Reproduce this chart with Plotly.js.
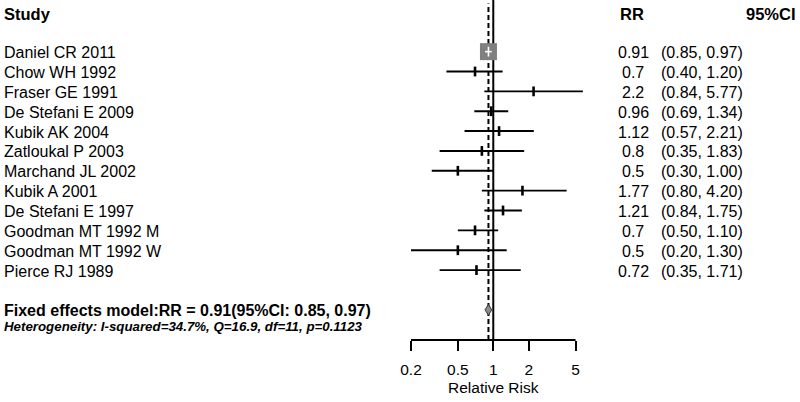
<!DOCTYPE html>
<html>
<head>
<meta charset="utf-8">
<script src="https://cdn.plot.ly/plotly-3.0.1.min.js"></script>
<style>html,body{margin:0;padding:0;background:#fff;}#chart{width:800px;height:402px;}</style>
</head>
<body>
<div id="chart"></div>
<script>
// ---- data ----
const studies = ["Daniel CR 2011","Chow WH 1992","Fraser GE 1991","De Stefani E 2009","Kubik AK 2004","Zatloukal P 2003","Marchand JL 2002","Kubik A 2001","De Stefani E 1997","Goodman MT 1992 M","Goodman MT 1992 W","Pierce RJ 1989"];
const rr    = [0.91, 0.7, 2.2, 0.96, 1.12, 0.8, 0.5, 1.77, 1.21, 0.7, 0.5, 0.72];
const lower = [0.85, 0.40, 0.84, 0.69, 0.57, 0.35, 0.30, 0.80, 0.84, 0.50, 0.20, 0.35];
const upper = [0.97, 1.20, 5.77, 1.34, 2.21, 1.83, 1.00, 4.20, 1.75, 1.10, 1.30, 1.71];
const pooledRR = 0.91, pooledLo = 0.85, pooledHi = 0.97;
const tickVals = [0.2, 0.5, 1, 2, 5];
const tickText = ["0.2", "0.5", "1", "2", "5"];
const heterogeneity = "Heterogeneity: I-squared=34.7%, Q=16.9, df=11, p=0.1123";

// ---- build ----
const FONT = "Arial, 'Liberation Sans', sans-serif";
const pooledRow = studies.length + 1;

// inverse-variance weights: biggest study drawn as a box
const w = lower.map((l, i) => { const se = (Math.log(upper[i]) - Math.log(l)) / 3.92; return 1 / (se * se); });
const big = w.indexOf(Math.max(...w));

const lx = [], ly = [];
const tx = [], ty = [];
studies.forEach((s, i) => {
  if (i === big) return;
  lx.push(lower[i], upper[i], null); ly.push(i, i, null);
  tx.push(rr[i]); ty.push(i);
});

const traces = [
  {type: "scatter", mode: "lines", x: lx, y: ly, line: {color: "#000", width: 1.9}, hoverinfo: "skip"},
  {type: "scatter", mode: "markers", x: tx, y: ty, marker: {symbol: "line-ns", size: 7, line: {color: "#000", width: 2.6}}, hoverinfo: "skip"},
  {type: "scatter", mode: "markers", x: [rr[big]], y: [big], marker: {symbol: "square", size: 17, color: "#808080", line: {width: 0}}, hoverinfo: "skip"},
  {type: "scatter", mode: "lines", x: [lower[big], upper[big]], y: [big, big], line: {color: "#fff", width: 1.6}, hoverinfo: "skip"},
  {type: "scatter", mode: "markers", x: [rr[big]], y: [big], marker: {symbol: "line-ns", size: 7, line: {color: "#fff", width: 1.6}}, hoverinfo: "skip"},
  {type: "scatter", mode: "lines", fill: "toself", fillcolor: "#8c8c8c",
   x: [pooledLo, pooledRR, pooledHi, pooledRR, pooledLo], y: [pooledRow, pooledRow - 0.27, pooledRow, pooledRow + 0.27, pooledRow],
   line: {color: "#333", width: 1}, hoverinfo: "skip"}
];

const ann = [];
const px = v => v / 800;
const rowFont = {family: FONT, size: 16, color: "#000"};
studies.forEach((s, i) => {
  ann.push({text: s, xref: "paper", x: px(2), xanchor: "left", yref: "y", y: i, yanchor: "middle", yshift: -1, showarrow: false, font: rowFont});
  ann.push({text: String(rr[i]), xref: "paper", x: px(633), xanchor: "center", yref: "y", y: i, yanchor: "middle", yshift: -1, showarrow: false, font: rowFont});
  ann.push({text: "(" + lower[i].toFixed(2) + ", " + upper[i].toFixed(2) + ")", xref: "paper", x: px(702), xanchor: "center", yref: "y", y: i, yanchor: "middle", yshift: -1, showarrow: false, font: rowFont});
});
ann.push({text: "<b>Study</b>", xref: "paper", x: px(2), xanchor: "left", yref: "y", y: -1.9, yanchor: "middle", showarrow: false, font: {family: FONT, size: 16.5, color: "#000"}});
ann.push({text: "<b>RR</b>", xref: "paper", x: px(632), xanchor: "center", yref: "y", y: -1.9, yanchor: "middle", showarrow: false, font: {family: FONT, size: 16.5, color: "#000"}});
ann.push({text: "<b>95%CI</b>", xref: "paper", x: px(798), xanchor: "right", yref: "y", y: -1.9, yanchor: "middle", showarrow: false, font: {family: FONT, size: 16.5, color: "#000"}});
ann.push({text: "<b>Fixed effects model:RR = " + pooledRR + "(95%CI: " + pooledLo.toFixed(2) + ", " + pooledHi.toFixed(2) + ")</b>", xref: "paper", x: px(2), xanchor: "left", yref: "y", y: pooledRow, yanchor: "middle", yshift: -1, showarrow: false, font: {family: FONT, size: 16, color: "#000"}});
ann.push({text: "<b><i>" + heterogeneity + "</i></b>", xref: "paper", x: px(2), xanchor: "left", yref: "y", y: pooledRow + 0.8, yanchor: "middle", yshift: -1, showarrow: false, font: {family: FONT, size: 13.3, color: "#000"}});
// axis title, centred on RR = 1
ann.push({text: "Relative Risk", xref: "x", x: Math.log10(tickVals[2]), xanchor: "center", yref: "paper", y: 0, yanchor: "middle", yshift: -47, showarrow: false, font: {family: FONT, size: 15.5, color: "#000"}});

const shapes = [
  {type: "line", layer: "below", xref: "x", x0: 1, x1: 1, yref: "paper", y0: 0, y1: 1, line: {color: "#000", width: 2}},
  {type: "line", layer: "below", xref: "x", x0: pooledRR, x1: pooledRR, yref: "paper", y0: 0, y1: 0.99, line: {color: "#000", width: 2, dash: "5px,3px"}},
  {type: "line", layer: "above", xref: "x", x0: tickVals[0], x1: tickVals[tickVals.length - 1], yref: "paper", y0: 0, y1: 0, line: {color: "#000", width: 2}}
];

const layout = {
  width: 800, height: 402,
  margin: {l: 0, r: 0, t: 0, b: 62},
  paper_bgcolor: "#fff", plot_bgcolor: "#fff",
  showlegend: false,
  xaxis: {
    type: "log", range: [-4.191, 2.606], showgrid: false, zeroline: false, showline: false,
    tickvals: tickVals, ticktext: tickText, ticks: "outside", ticklen: 10, tickwidth: 2, tickcolor: "#000",
    ticklabelstandoff: 5,
    tickfont: {family: FONT, size: 15.5, color: "#000"},
    fixedrange: true
  },
  yaxis: {range: [14.52, -2.6], visible: false, fixedrange: true},
  shapes: shapes,
  annotations: ann
};

Plotly.newPlot("chart", traces, layout, {displayModeBar: false, staticPlot: true});
</script>
</body>
</html>
